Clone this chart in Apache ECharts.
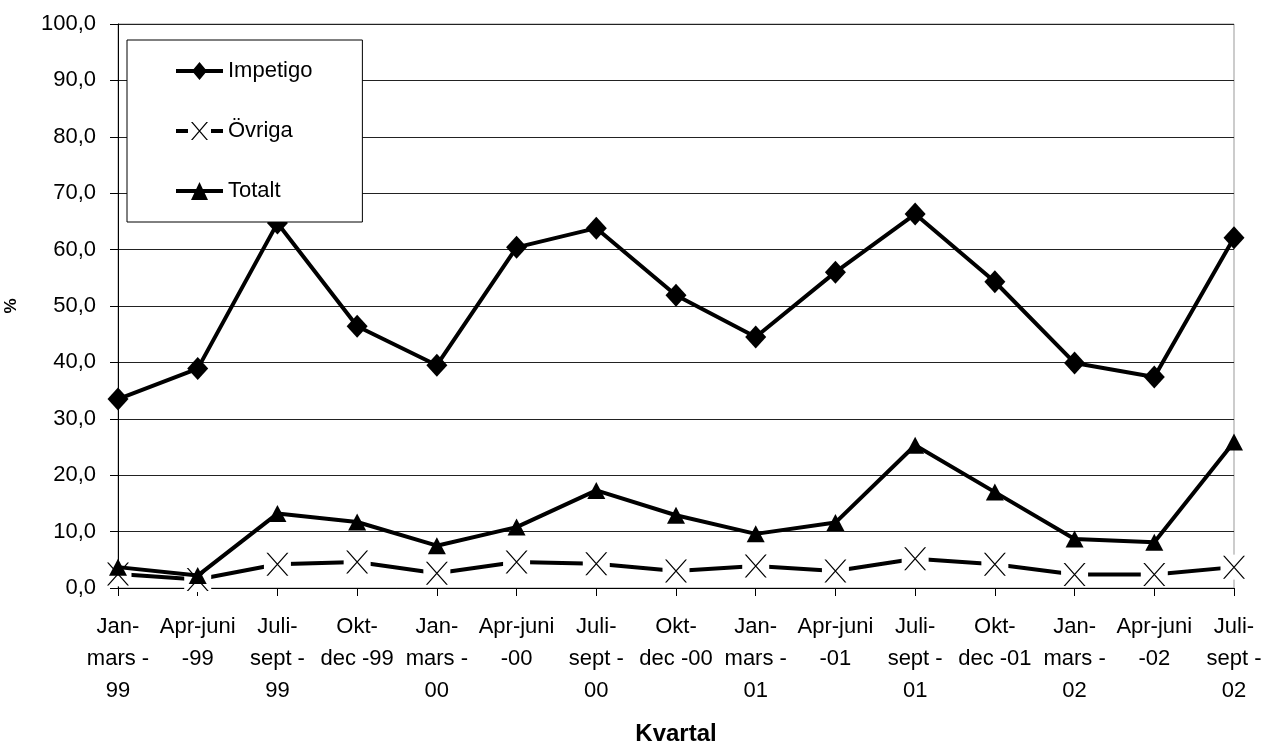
<!DOCTYPE html>
<html>
<head>
<meta charset="utf-8">
<script src="https://cdn.jsdelivr.net/npm/echarts@6/dist/echarts.min.js"></script>
<style>
  html, body { margin: 0; padding: 0; background: #fff; }
  #chart { width: 1265px; height: 747px; }
</style>
</head>
<body>
<div id="chart"></div>
<script>
const categories = [
  "Jan-\nmars -\n99", "Apr-juni\n-99", "Juli-\nsept -\n99", "Okt-\ndec -99",
  "Jan-\nmars -\n00", "Apr-juni\n-00", "Juli-\nsept -\n00", "Okt-\ndec -00",
  "Jan-\nmars -\n01", "Apr-juni\n-01", "Juli-\nsept -\n01", "Okt-\ndec -01",
  "Jan-\nmars -\n02", "Apr-juni\n-02", "Juli-\nsept -\n02"
];
const impetigo = [33.5, 38.9, 64.7, 46.4, 39.5, 60.4, 63.8, 51.9, 44.5, 56.0, 66.3, 54.3, 39.9, 37.4, 62.1];
const ovriga   = [2.5, 1.5, 4.2, 4.6, 2.6, 4.6, 4.3, 3.0, 3.9, 3.0, 5.2, 4.2, 2.4, 2.4, 3.7];
const totalt   = [3.7, 2.2, 13.2, 11.7, 7.5, 10.8, 17.3, 12.9, 9.6, 11.6, 25.3, 17.0, 8.7, 8.1, 25.9];
const seriesNames = ["Impetigo", "Övriga", "Totalt"];
const yAxisName = "%";
const xAxisName = "Kvartal";

const FONT = "'Liberation Sans', Arial, sans-serif";
const X_SYMBOL = 'path://M0 0H1.6L22 22H20.4Z M20.4 0H22L1.6 22H0Z';

const chart = echarts.init(document.getElementById('chart'), null, { renderer: 'canvas' });
chart.setOption({
  animation: false,
  backgroundColor: '#fff',
  textStyle: { fontFamily: FONT, color: '#000' },
  grid: { left: 118, right: 31, top: 24, bottom: 159, show: true, borderColor: '#999', borderWidth: 1,
          containLabel: false, outerBoundsMode: 'none' },
  legend: {
    orient: 'vertical',
    left: 127, top: 40,
    padding: [20, 50, 20, 49],
    itemWidth: 47, itemHeight: 18, itemGap: 38,
    backgroundColor: '#fff', borderColor: '#000', borderWidth: 1, borderRadius: 0,
    z: 10,
    textStyle: { fontFamily: FONT, fontSize: 22, color: '#000' },
    data: [
      { name: seriesNames[0], icon: 'path://M0 7H47V11H0Z M16 9L23.5 0L31 9L23.5 18Z' },
      { name: seriesNames[1], icon: 'path://M0 7H12V11H0Z M35 7H47V11H35Z M15 0H16.6L32 18H30.4Z M30.4 0H32L16.6 18H15Z' },
      { name: seriesNames[2], icon: 'path://M0 7H47V11H0Z M15 18L23.5 0L32 18Z' }
    ],
    itemStyle: { color: '#000', borderWidth: 0 },
    lineStyle: { width: 0 }
  },
  xAxis: {
    type: 'category',
    data: categories,
    boundaryGap: false,
    name: xAxisName,
    nameLocation: 'middle',
    nameGap: 134,
    nameTextStyle: { fontFamily: FONT, fontSize: 24, fontWeight: 'bold', color: '#000' },
    axisLine: { lineStyle: { color: '#000', width: 1 } },
    axisTick: { show: true, length: 8, lineStyle: { color: '#000' } },
    axisLabel: { interval: 0, margin: 23, lineHeight: 32, fontSize: 22, color: '#000', fontFamily: FONT, align: 'center' },
    splitLine: { show: false }
  },
  yAxis: {
    type: 'value',
    min: 0, max: 100, interval: 10,
    name: yAxisName,
    nameLocation: 'middle',
    nameRotate: 90,
    nameGap: 98,
    nameTextStyle: { fontFamily: FONT, fontSize: 17, fontWeight: 'bold', color: '#000' },
    axisLine: { show: true, lineStyle: { color: '#000', width: 1 } },
    axisTick: { show: true, length: 8, lineStyle: { color: '#000' } },
    axisLabel: { margin: 22, fontSize: 22, color: '#000', fontFamily: FONT,
      formatter: v => v.toFixed(1).replace('.', ',') },
    splitLine: { show: true, lineStyle: { color: '#222', width: 1 } }
  },
  series: [
    {
      name: seriesNames[0], type: 'line', data: impetigo, z: 2,
      symbol: 'diamond', symbolSize: [21, 23],
      lineStyle: { color: '#000', width: 4 },
      itemStyle: { color: '#000' }
    },
    {
      name: seriesNames[1], type: 'line', data: ovriga, z: 2,
      showSymbol: false, symbol: 'none',
      lineStyle: { color: '#000', width: 4 },
      itemStyle: { color: '#000' }
    },
    {
      name: seriesNames[1], type: 'scatter', data: ovriga, z: 3,
      symbol: 'rect', symbolSize: [27, 25],
      itemStyle: { color: '#fff', opacity: 1 },
      silent: true
    },
    {
      name: seriesNames[1], type: 'scatter', data: ovriga, z: 4,
      symbol: X_SYMBOL, symbolSize: [22, 23],
      itemStyle: { color: '#000', opacity: 1 },
      silent: true
    },
    {
      name: seriesNames[2], type: 'line', data: totalt, z: 5,
      symbol: 'triangle', symbolSize: [18, 17],
      lineStyle: { color: '#000', width: 4 },
      itemStyle: { color: '#000' }
    }
  ]
});
</script>
</body>
</html>
